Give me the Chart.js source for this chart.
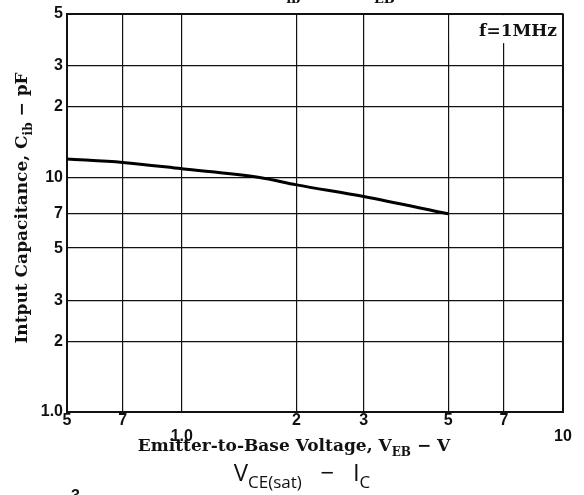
<!DOCTYPE html>
<html>
<head>
<meta charset="utf-8">
<script src="https://cdn.jsdelivr.net/npm/chart.js@4"></script>
<style>
  body { margin: 0; background: #fff; }
  #wrap { width: 584px; height: 495px; position: relative; }
</style>
</head>
<body>
<div id="wrap"><canvas id="chart"></canvas></div>
<script>
// values
const veb = [0.5, 0.7, 1.0, 1.6, 2, 3, 5];
const cib = [12.0, 11.6, 10.9, 10.0, 9.3, 8.3, 7.0];

const xTicks = [0.5, 0.7, 1, 2, 3, 5, 7, 10];
const xTickLabels = ["5", "7", "1.0", "2", "3", "5", "7", "10"];
const xLowered = ["1.0", "10"]; // these sit one line lower in the original
const yTicks = [1, 2, 3, 5, 7, 10, 20, 30, 50];
const yTickLabels = ["1.0", "2", "3", "5", "7", "10", "2", "3", "5"];

const SERIF = "'DejaVu Serif', serif";
const SANS = "'Liberation Sans', Arial, sans-serif";

// draws text with subscript pieces, parts = [[text, isSub], ...]
function drawParts(ctx, parts, x, y, align, size, family, weight) {
  const subSize = Math.round(size * 0.72);
  const fontFor = sub => `${weight} ${sub ? subSize : size}px ${family}`;
  let total = 0;
  parts.forEach(([t, sub]) => { ctx.font = fontFor(sub); total += ctx.measureText(t).width; });
  let cx = align === "center" ? x - total / 2 : align === "right" ? x - total : x;
  ctx.textAlign = "left";
  ctx.textBaseline = "alphabetic";
  parts.forEach(([t, sub]) => {
    ctx.font = fontFor(sub);
    ctx.fillText(t, cx, sub ? y + size * 0.28 : y);
    cx += ctx.measureText(t).width;
  });
}

const textPlugin = {
  id: "texts",
  afterDraw(chart) {
    const { ctx, chartArea, scales } = chart;
    ctx.save();
    ctx.fillStyle = "#111";

    // y title
    ctx.save();
    ctx.translate(27, 208);
    ctx.rotate(-Math.PI / 2);
    drawParts(ctx, [["Intput Capacitance, C", false], ["ib", true], [" \u2212 pF", false]], 0, 0, "center", 17, SERIF, "bold");
    ctx.restore();

    // x title
    drawParts(ctx, [["Emitter-to-Base Voltage, V", false], ["EB", true], [" \u2212 V", false]], 294, 451, "center", 17, SERIF, "bold");

    // f=1MHz box
    const x5 = scales.x.getPixelForValue(5);
    ctx.fillStyle = "#fff";
    ctx.fillRect(x5 + 1.5, chartArea.top + 1.5, chartArea.right - x5 - 3, 28);
    ctx.fillStyle = "#111";
    ctx.font = "bold 17px " + SERIF;
    ctx.textAlign = "right";
    ctx.fillText("f=1MHz", chartArea.right - 6, chartArea.top + 22);

    // fragments of the neighbouring charts on the scanned page
    drawParts(ctx, [["V", false], ["CE(sat)", true], ["   \u2212   I", false], ["C", true]], 302, 481, "center", 24, "'Open Sans', sans-serif", "normal");
    ctx.font = "bold 16px " + SANS;
    ctx.textAlign = "left";
    ctx.fillText("3", 71, 501);
    drawParts(ctx, [["C", false], ["ib", true]], 272, -2, "left", 18, SERIF, "bold");
    drawParts(ctx, [["V", false], ["EB", true]], 360, -2, "left", 18, SERIF, "bold");
    ctx.restore();
  }
};

const edgeWidth = (c, n) => (c.index === 0 || c.index === n - 1) ? 2 : 1.2;

new Chart(document.getElementById("chart"), {
  type: "line",
  data: {
    datasets: [{
      data: veb.map((v, i) => ({ x: v, y: cib[i] })),
      borderColor: "#000",
      borderWidth: 3,
      pointRadius: 0,
      fill: false,
      cubicInterpolationMode: "monotone"
    }]
  },
  options: {
    responsive: true,
    maintainAspectRatio: false,
    animation: false,
    layout: { padding: { left: 0, right: 21, top: 10, bottom: 0 } },
    plugins: { legend: { display: false }, tooltip: { enabled: false } },
    scales: {
      x: {
        type: "logarithmic",
        min: 0.5,
        max: 10,
        afterBuildTicks: s => { s.ticks = xTicks.map(v => ({ value: v })); },
        afterFit: s => { s.height = 83; },
        grid: { color: "#111", lineWidth: c => edgeWidth(c, xTicks.length), drawTicks: false },
        border: { color: "#111", width: 2 },
        ticks: {
          autoSkip: false,
          maxRotation: 0,
          padding: 1,
          color: "#111",
          font: { family: SANS, size: 16, weight: "bold", lineHeight: 1 },
          callback: (v, i) => xLowered.includes(xTickLabels[i]) ? ["", xTickLabels[i]] : xTickLabels[i]
        }
      },
      y: {
        type: "logarithmic",
        min: 1,
        max: 50,
        afterBuildTicks: s => { s.ticks = yTicks.map(v => ({ value: v })); },
        afterFit: s => { s.width = 67; },
        grid: { color: "#111", lineWidth: c => edgeWidth(c, yTicks.length), drawTicks: false },
        border: { color: "#111", width: 2 },
        ticks: {
          autoSkip: false,
          padding: 4,
          color: "#111",
          font: { family: SANS, size: 16, weight: "bold" },
          callback: (v, i) => yTickLabels[i]
        }
      }
    }
  },
  plugins: [textPlugin]
});
</script>
</body>
</html>
